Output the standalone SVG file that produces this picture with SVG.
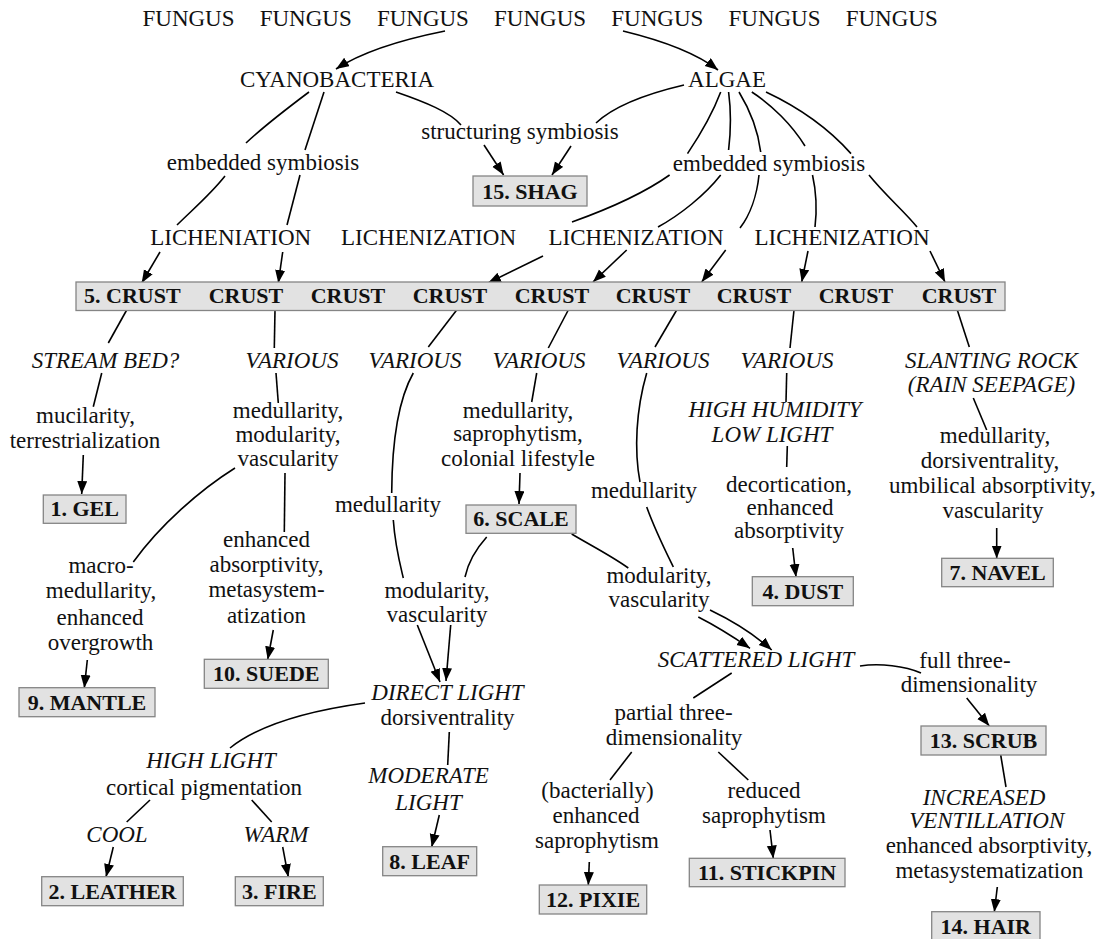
<svg xmlns="http://www.w3.org/2000/svg" width="1110" height="939" viewBox="0 0 1110 939">
<style>
text{font-family:"Liberation Serif","Times New Roman",serif;font-size:23px;fill:#111;text-anchor:middle}
.i{font-style:italic}
.b{font-weight:bold;font-size:22px}
.box{fill:#e2e2e2;stroke:#858585;stroke-width:1.3}
.c{fill:none;stroke:#000;stroke-width:1.6}
.a{marker-end:url(#ah)}
</style>
<defs>
<marker id="ah" markerUnits="userSpaceOnUse" markerWidth="14" markerHeight="11" refX="13" refY="5" orient="auto">
<path d="M0,0 L13,5 L0,10 z" fill="#000"/>
</marker>
</defs>
<rect width="1110" height="939" fill="#fff"/>

<g id="connectors">
<path class="c a" d="M445,31 C400,40 362,52 336,69"/>
<path class="c a" d="M623,31 C660,40 695,52 718,70"/>
<path class="c" d="M309,92 C285,110 262,128 246,143"/>
<path class="c" d="M225,176 C210,195 192,210 177,225"/>
<path class="c a" d="M160,252 L141.7,283"/>
<path class="c" d="M324,92 L305,150"/>
<path class="c" d="M300,175 L287,225"/>
<path class="c a" d="M282.7,252 L278.3,283"/>
<path class="c" d="M396,92 C425,102 450,112 461,125"/>
<path class="c a" d="M484,145 L503.6,175"/>
<path class="c" d="M684,85 C650,93 615,105 596,123"/>
<path class="c a" d="M571,146 L552,175"/>
<path class="c" d="M720.7,92 C712,115 700,135 687.5,153.6"/>
<path class="c" d="M728.6,92 C731,110 731,130 728.6,150"/>
<path class="c" d="M739,92 C750,110 758,130 760.7,152"/>
<path class="c" d="M751.8,92 C772,105 792,125 805,146"/>
<path class="c" d="M766,92 C800,108 830,130 851,153.6"/>
<path class="c" d="M669.6,175 C640,196 600,212 572,222"/>
<path class="c a" d="M543,256 L488,283"/>
<path class="c" d="M720.7,175 C705,195 680,215 658,227"/>
<path class="c a" d="M626.7,250 L593,282"/>
<path class="c" d="M759,175 C757,195 750,215 740,228"/>
<path class="c a" d="M725.7,250 L701.7,282"/>
<path class="c" d="M812.5,175 C817,195 817,210 815,227"/>
<path class="c a" d="M808,251 L801.7,282"/>
<path class="c" d="M869,175 C885,195 905,212 917,227"/>
<path class="c a" d="M930,251 L945,282"/>
<path class="c" d="M126.7,310 L108.3,343"/>
<path class="c" d="M101.7,373 L93.3,406.7"/>
<path class="c" d="M275,310 L274.3,348"/>
<path class="c" d="M276,373 L278.3,403"/>
<path class="c" d="M456.7,310 L428.3,347"/>
<path class="c" d="M568.3,310 L548.3,348"/>
<path class="c" d="M536.7,373 L531.7,402"/>
<path class="c" d="M676.7,310 L655,347"/>
<path class="c" d="M794,310 L790,348"/>
<path class="c" d="M786.7,373 L786,402"/>
<path class="c" d="M787.3,446 L786.7,467"/>
<path class="c" d="M957.3,310 L969.3,347"/>
<path class="c" d="M973.3,398 L986.7,430"/>
<path class="c a" d="M83.3,455 L81.7,494"/>
<path class="c" d="M235,468 C200,490 160,525 133.3,562"/>
<path class="c" d="M285,473 L284.3,532"/>
<path class="c a" d="M520,473 L519,504"/>
<path class="c a" d="M792.7,548 L796,577"/>
<path class="c a" d="M996.7,528 L996.7,558.5"/>
<path class="c" d="M413.3,373 C398,400 392,440 391.7,493"/>
<path class="c" d="M393.3,520 C395,545 399,560 403.3,578"/>
<path class="c" d="M486.7,537 C475,550 468,563 465,577"/>
<path class="c" d="M571.7,534 C590,545 610,555 628.3,568"/>
<path class="c" d="M646.7,373 C636,410 634,450 640,482"/>
<path class="c" d="M646.7,507 C655,530 665,550 673.3,567"/>
<path class="c a" d="M417.3,625 L440,682"/>
<path class="c a" d="M450.7,625 L446,681"/>
<path class="c a" d="M698.3,617 C720,628 735,638 750,648.3"/>
<path class="c a" d="M710,610 C735,622 755,635 771.7,650"/>
<path class="c a" d="M273.3,630 L267.7,659.5"/>
<path class="c a" d="M87.3,660 L84.3,688"/>
<path class="c" d="M365,703 C300,712 255,728 230,748"/>
<path class="c" d="M449.3,732 L447.7,765"/>
<path class="c a" d="M439.3,815 L431.7,847"/>
<path class="c" d="M150,800 L126.7,822"/>
<path class="c" d="M251.7,800 L271.7,822"/>
<path class="c a" d="M113.3,847 L106,877"/>
<path class="c a" d="M282.7,847 L288.3,877"/>
<path class="c" d="M731.7,673 L693.3,698"/>
<path class="c" d="M631.7,752 L610,780"/>
<path class="c" d="M718.3,752 L748.3,780"/>
<path class="c a" d="M589.3,862 L588.3,885"/>
<path class="c a" d="M770,830 L773.3,858.5"/>
<path class="c" d="M860,666 C880,663 905,666 921,673"/>
<path class="c a" d="M966.7,698 L989.3,726"/>
<path class="c" d="M1000.7,755 L1006,787"/>
<path class="c a" d="M997.3,887 L994.3,912"/>
</g>

<g id="fungi">
<text x="188.5" y="26">FUNGUS</text>
<text x="305.7" y="26">FUNGUS</text>
<text x="422.9" y="26">FUNGUS</text>
<text x="540.1" y="26">FUNGUS</text>
<text x="657.3" y="26">FUNGUS</text>
<text x="774.5" y="26">FUNGUS</text>
<text x="891.7" y="26">FUNGUS</text>
</g>
<g id="cyanobacteria"><text x="337" y="87">CYANOBACTERIA</text></g>
<g id="algae"><text x="727" y="87">ALGAE</text></g>
<g id="structuring-symbiosis"><text x="520" y="139">structuring symbiosis</text></g>
<g id="embedded-symbiosis-left"><text x="263" y="170">embedded symbiosis</text></g>
<g id="embedded-symbiosis-right"><text x="769" y="171">embedded symbiosis</text></g>
<g id="shag"><rect class="box" x="473" y="176" width="114" height="30"/><text class="b" x="530" y="199">15. SHAG</text></g>
<g id="licheniation"><text x="230.7" y="245">LICHENIATION</text></g>
<g id="lichenization-1"><text x="428.5" y="245">LICHENIZATION</text></g>
<g id="lichenization-2"><text x="636" y="245">LICHENIZATION</text></g>
<g id="lichenization-3"><text x="842" y="245">LICHENIZATION</text></g>
<g id="crust">
<rect class="box" x="76" y="282" width="929" height="28.5"/>
<text class="b" x="132.3" y="303">5. CRUST</text>
<text class="b" x="246" y="303">CRUST</text>
<text class="b" x="348" y="303">CRUST</text>
<text class="b" x="450" y="303">CRUST</text>
<text class="b" x="552" y="303">CRUST</text>
<text class="b" x="653" y="303">CRUST</text>
<text class="b" x="754" y="303">CRUST</text>
<text class="b" x="856" y="303">CRUST</text>
<text class="b" x="959" y="303">CRUST</text>
</g>
<g id="stream-bed"><text class="i" x="105.5" y="368">STREAM BED?</text></g>
<g id="various-1"><text class="i" x="292" y="368">VARIOUS</text></g>
<g id="various-2"><text class="i" x="415" y="368">VARIOUS</text></g>
<g id="various-3"><text class="i" x="539" y="368">VARIOUS</text></g>
<g id="various-4"><text class="i" x="663" y="368">VARIOUS</text></g>
<g id="various-5"><text class="i" x="787" y="368">VARIOUS</text></g>
<g id="slanting-rock"><text class="i" x="991.5" y="368">SLANTING ROCK</text><text class="i" x="991.5" y="392">(RAIN SEEPAGE)</text></g>
<g id="mucilarity"><text x="85.5" y="423">mucilarity,</text><text x="85" y="448">terrestrialization</text></g>
<g id="medullarity-modularity"><text x="288" y="418">medullarity,</text><text x="288" y="442">modularity,</text><text x="288" y="466">vascularity</text></g>
<g id="medullarity-saprophytism"><text x="518" y="418">medullarity,</text><text x="518" y="441">saprophytism,</text><text x="518" y="466">colonial lifestyle</text></g>
<g id="high-humidity"><text class="i" x="775" y="417">HIGH HUMIDITY</text><text class="i" x="772" y="442">LOW LIGHT</text></g>
<g id="decortication"><text x="789" y="492">decortication,</text><text x="790" y="515">enhanced</text><text x="789" y="538">absorptivity</text></g>
<g id="medullarity-dorsiventrality"><text x="995" y="443">medullarity,</text><text x="990" y="468">dorsiventrality,</text><text x="992.5" y="493">umbilical absorptivity,</text><text x="993" y="518">vascularity</text></g>
<g id="gel"><rect class="box" x="43.3" y="495" width="82.7" height="28.3"/><text class="b" x="84.7" y="516">1. GEL</text></g>
<g id="medullarity-left"><text x="388" y="512">medullarity</text></g>
<g id="medullarity-right"><text x="644" y="498">medullarity</text></g>
<g id="scale"><rect class="box" x="466" y="505" width="110" height="28.3"/><text class="b" x="521" y="526">6. SCALE</text></g>
<g id="navel"><rect class="box" x="941.7" y="558.3" width="111.6" height="28.4"/><text class="b" x="997.5" y="579.5">7. NAVEL</text></g>
<g id="dust"><rect class="box" x="752.3" y="576.7" width="101" height="29"/><text class="b" x="802.8" y="598.5">4. DUST</text></g>
<g id="enhanced-absorptivity"><text x="266.5" y="547">enhanced</text><text x="266.5" y="572">absorptivity,</text><text x="266.5" y="597">metasystem-</text><text x="266.5" y="623">atization</text></g>
<g id="macro-medullarity"><text x="101" y="573">macro-</text><text x="101" y="598">medullarity,</text><text x="100" y="625">enhanced</text><text x="100.5" y="650">overgrowth</text></g>
<g id="modularity-left"><text x="437" y="598">modularity,</text><text x="437" y="622">vascularity</text></g>
<g id="modularity-right"><text x="659" y="583">modularity,</text><text x="659" y="607">vascularity</text></g>
<g id="suede"><rect class="box" x="204.3" y="659.3" width="124" height="29"/><text class="b" x="266.3" y="681">10. SUEDE</text></g>
<g id="mantle"><rect class="box" x="19" y="687.7" width="136" height="29"/><text class="b" x="87" y="709.5">9. MANTLE</text></g>
<g id="scattered-light"><text class="i" x="756" y="667">SCATTERED LIGHT</text></g>
<g id="full-three"><text x="965" y="668">full three-</text><text x="969" y="692">dimensionality</text></g>
<g id="direct-light"><text class="i" x="447.5" y="700">DIRECT LIGHT</text><text x="447.5" y="725">dorsiventrality</text></g>
<g id="partial-three"><text x="673.5" y="720">partial three-</text><text x="674" y="745">dimensionality</text></g>
<g id="scrub"><rect class="box" x="921" y="726" width="125" height="29"/><text class="b" x="983.5" y="748">13. SCRUB</text></g>
<g id="high-light"><text class="i" x="211" y="768">HIGH LIGHT</text><text x="204" y="795">cortical pigmentation</text></g>
<g id="moderate-light"><text class="i" x="428.5" y="783">MODERATE</text><text class="i" x="428.5" y="810">LIGHT</text></g>
<g id="bacterially"><text x="597.5" y="798">(bacterially)</text><text x="596" y="823">enhanced</text><text x="597" y="848">saprophytism</text></g>
<g id="reduced"><text x="764" y="798">reduced</text><text x="764" y="823">saprophytism</text></g>
<g id="increased-ventillation"><text class="i" x="984" y="805">INCREASED</text><text class="i" x="986.7" y="828">VENTILLATION</text><text x="989" y="853">enhanced absorptivity,</text><text x="989.3" y="878">metasystematization</text></g>
<g id="cool"><text class="i" x="117" y="842">COOL</text></g>
<g id="warm"><text class="i" x="276" y="842">WARM</text></g>
<g id="leaf"><rect class="box" x="382.7" y="846.7" width="94" height="29"/><text class="b" x="429.7" y="869">8. LEAF</text></g>
<g id="stickpin"><rect class="box" x="689.3" y="858.3" width="155.7" height="28.4"/><text class="b" x="767" y="880">11. STICKPIN</text></g>
<g id="leather"><rect class="box" x="41.7" y="876.7" width="141.6" height="29"/><text class="b" x="112.5" y="898.5">2. LEATHER</text></g>
<g id="fire"><rect class="box" x="235.3" y="876.7" width="88" height="29"/><text class="b" x="279.3" y="898.5">3. FIRE</text></g>
<g id="pixie"><rect class="box" x="539.3" y="885" width="107.4" height="29"/><text class="b" x="593" y="907">12. PIXIE</text></g>
<g id="hair"><rect class="box" x="931.7" y="911.7" width="108.3" height="29"/><text class="b" x="985.8" y="933.5">14. HAIR</text></g>
</svg>
